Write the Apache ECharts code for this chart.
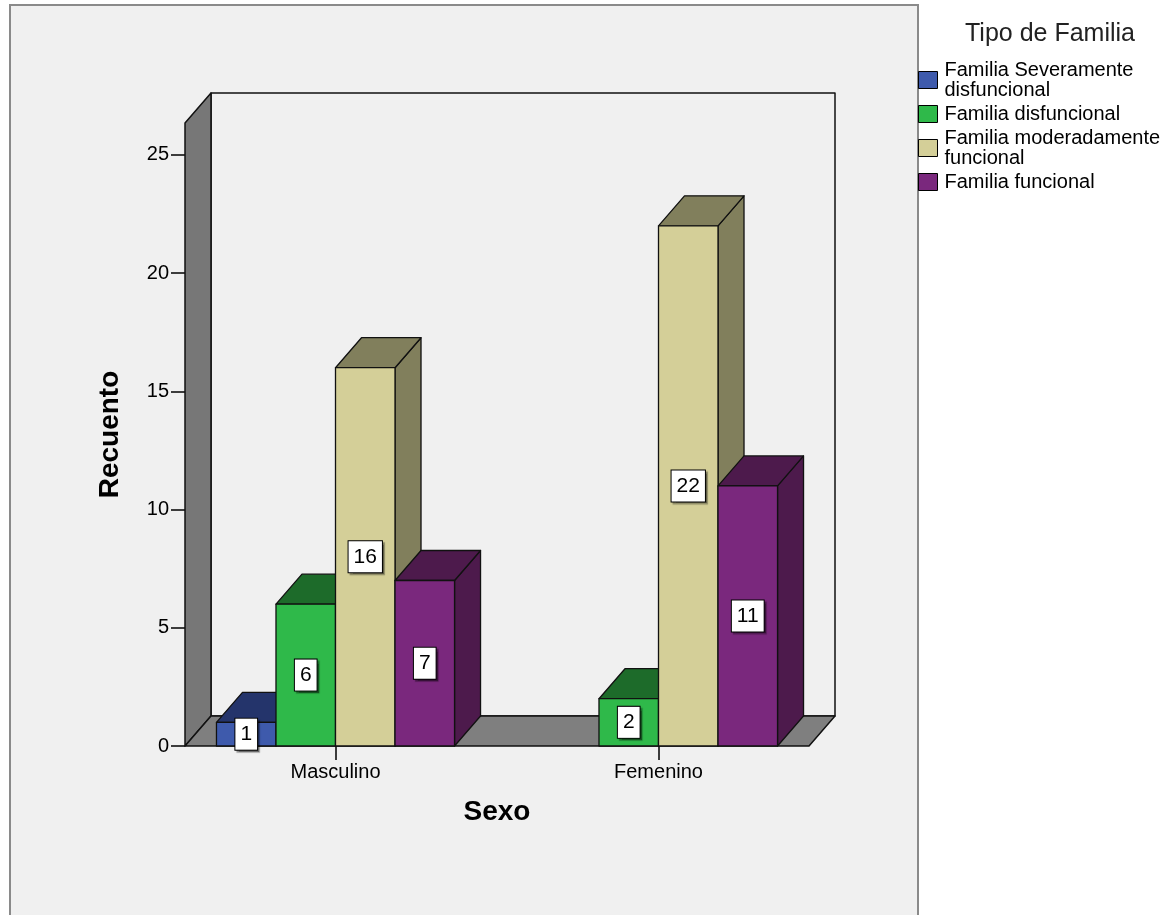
<!DOCTYPE html>
<html>
<head>
<meta charset="utf-8">
<script src="https://cdn.jsdelivr.net/npm/echarts@6/dist/echarts.min.js"></script>
<style>
html,body{margin:0;padding:0;background:#fff;}
#chart{width:1176px;height:915px;}
</style>
</head>
<body>
<div id="chart"></div>
<script>
// ---- data ----
const categories = ['Masculino', 'Femenino'];
const seriesNames = ['Familia Severamente disfuncional', 'Familia disfuncional', 'Familia moderadamente funcional', 'Familia funcional'];
const legendLabels = ['Familia Severamente\ndisfuncional', 'Familia disfuncional', 'Familia moderadamente\nfuncional', 'Familia funcional'];
const severamente = [1, 0];
const disfuncional = [6, 2];
const moderada = [16, 22];
const funcional = [7, 11];
const yTicks = [0, 5, 10, 15, 20, 25];
const yMax = 26.35;

const FONT = '"Liberation Sans", Arial, sans-serif';
const frontColors = ['#3e5aac', '#2fb94a', '#d4cf98', '#7a287d'];
const darkColors = ['#24346b', '#1d6b2a', '#817f5c', '#4d1a4c'];
const DX = 26, DY = -30;
const GROUP_RATIO = 0.737;
const WALL_INSET = 11;

const allValues = [severamente, disfuncional, moderada, funcional];

function barRender(sIdx) {
  return function (params, api) {
    const cat = api.value(0), val = api.value(1);
    if (!val) return null;
    const band = api.size([1, 0])[0];
    const groupW = band * GROUP_RATIO;
    const barW = groupW / 4;
    const b = api.coord([cat, 0]);
    const t = api.coord([cat, val]);
    const x0 = b[0] - groupW / 2 + sIdx * barW, x1 = x0 + barW;
    const yb = b[1], yt = t[1];
    const stroke = { stroke: '#111', lineWidth: 1.3, lineJoin: 'round' };
    return {
      type: 'group',
      children: [
        { type: 'polygon', shape: { points: [[x1, yt], [x1 + DX, yt + DY], [x1 + DX, yb + DY], [x1, yb]] },
          style: Object.assign({ fill: darkColors[sIdx] }, stroke) },
        { type: 'polygon', shape: { points: [[x0, yt], [x1, yt], [x1 + DX, yt + DY], [x0 + DX, yt + DY]] },
          style: Object.assign({ fill: darkColors[sIdx] }, stroke) },
        { type: 'rect', shape: { x: x0, y: yt, width: barW, height: yb - yt },
          style: Object.assign({ fill: frontColors[sIdx] }, stroke),
          textContent: {
            type: 'text',
            style: {
              text: String(val), fontSize: 21, fontFamily: FONT, fill: '#000',
              backgroundColor: '#fff', borderColor: '#000', borderWidth: 1,
              padding: [5, 5],
              shadowColor: 'rgba(0,0,0,0.35)', shadowOffsetX: 2, shadowOffsetY: 2, shadowBlur: 1
            }
          },
          textConfig: { position: 'inside' }
        }
      ]
    };
  };
}

function wallRender(params, api) {
  const cs = params.coordSys;
  const fx0 = cs.x + WALL_INSET, fx1 = cs.x + cs.width - WALL_INSET;
  const yb = api.coord([0, 0])[1];
  const yt = api.coord([0, yMax])[1];
  const st = { stroke: '#111', lineWidth: 1.5, lineJoin: 'round' };
  return {
    type: 'group',
    children: [
      { type: 'rect', shape: { x: fx0 + DX, y: yt + DY, width: fx1 - fx0, height: yb - yt },
        style: Object.assign({ fill: '#f0f0f0' }, st) },
      { type: 'polygon', shape: { points: [[fx0, yb], [fx0, yt], [fx0 + DX, yt + DY], [fx0 + DX, yb + DY]] },
        style: Object.assign({ fill: '#777777' }, st) },
      { type: 'polygon', shape: { points: [[fx0, yb], [fx1, yb], [fx1 + DX, yb + DY], [fx0 + DX, yb + DY]] },
        style: Object.assign({ fill: '#7f7f7f' }, st) }
    ]
  };
}

const chart = echarts.init(document.getElementById('chart'), null, { renderer: 'canvas' });

const series = [{
  type: 'custom',
  name: '__walls',
  z: 1,
  silent: true,
  clip: false,
  renderItem: wallRender,
  data: [[0, 0]],
  encode: { x: 0, y: 1 }
}];
seriesNames.forEach(function (n, i) {
  series.push({
    type: 'custom',
    name: n,
    z: 2,
    clip: false,
    itemStyle: { color: frontColors[i], borderColor: '#000', borderWidth: 1 },
    renderItem: barRender(i),
    data: allValues[i].map(function (v, c) { return [c, v]; }),
    encode: { x: 0, y: 1 }
  });
});

chart.setOption({
  animation: false,
  backgroundColor: '#ffffff',
  textStyle: { fontFamily: FONT },
  graphic: [{
    type: 'rect', z: -10,
    shape: { x: 10, y: 5, width: 908, height: 930 },
    style: { fill: '#f0f0f0', stroke: '#8a8a8a', lineWidth: 2 }
  }],
  title: {
    text: 'Tipo de Familia',
    left: 1045, top: 17, textAlign: 'center',
    textStyle: { fontSize: 25, fontWeight: 'normal', color: '#222', fontFamily: FONT }
  },
  legend: {
    orient: 'vertical',
    left: 918, top: 60,
    padding: 0,
    data: seriesNames,
    icon: 'rect',
    itemWidth: 19, itemHeight: 17, itemGap: 4,
    selectedMode: false,
    itemStyle: { borderColor: '#000', borderWidth: 1 },
    formatter: function (name) { return legendLabels[seriesNames.indexOf(name)]; },
    textStyle: { fontSize: 20, lineHeight: 20, color: '#000', fontFamily: FONT, padding: [0, 0, 0, 2] }
  },
  grid: { left: 174, width: 646, top: 123, bottom: 169, containLabel: false },
  xAxis: {
    type: 'category',
    data: categories,
    name: 'Sexo',
    nameLocation: 'middle',
    nameGap: 52,
    nameTextStyle: { fontSize: 28, fontWeight: 'bold', color: '#000', fontFamily: FONT },
    axisLine: { show: false },
    axisTick: { show: true, alignWithLabel: true, length: 14, lineStyle: { color: '#000', width: 1.5 } },
    axisLabel: { fontSize: 20, color: '#000', margin: 16, fontFamily: FONT },
    splitLine: { show: false }
  },
  yAxis: {
    type: 'value',
    min: 0, max: yMax, interval: 5,
    offset: -WALL_INSET,
    name: 'Recuento',
    nameLocation: 'middle',
    nameGap: 61,
    nameTextStyle: { fontSize: 28, fontWeight: 'bold', color: '#000', fontFamily: FONT },
    axisLine: { show: false },
    axisTick: { show: true, length: 14, customValues: yTicks, lineStyle: { color: '#000', width: 1.5 } },
    axisLabel: { fontSize: 20, color: '#000', margin: 16, customValues: yTicks, fontFamily: FONT },
    splitLine: { show: false }
  },
  series: series
});
</script>
</body>
</html>
